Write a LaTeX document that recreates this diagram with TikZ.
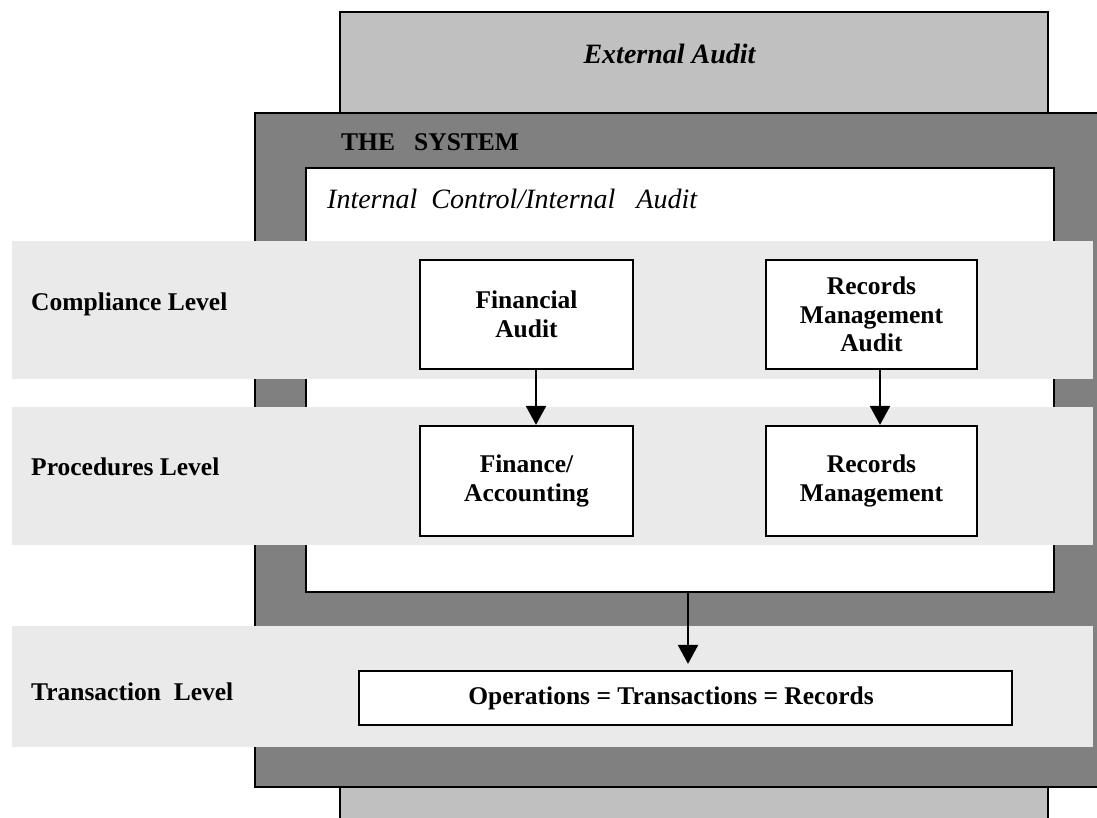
\documentclass[tikz,border=0pt]{standalone}
\usepackage{fontspec}
\setmainfont{Liberation Serif}
\usetikzlibrary{arrows.meta}
\definecolor{extgray}{HTML}{C0C0C0}
\definecolor{sysgray}{HTML}{808080}
\definecolor{bandgray}{HTML}{EAEAEA}
\begin{document}
\begin{tikzpicture}[x=1pt,y=-1pt,
  frame/.style={draw=black,line width=2.2pt,inner sep=0pt,outer sep=0pt,anchor=north west},
  stepbox/.style={draw=black,line width=2.2pt,fill=white,align=center,inner sep=0pt,
    font=\fontsize{25.5}{28.5}\selectfont\bfseries},
  lbl/.style={anchor=base west,inner sep=0pt,font=\fontsize{25.5}{28}\selectfont\bfseries},
  flow/.style={line width=2.2pt,-{Triangle[width=20pt,length=19pt]}}]
\useasboundingbox (0,0) rectangle (1097,818);
\clip (0,0) rectangle (1097,818);

% outer layers: external audit, the system, internal control
\node[frame,fill=extgray,minimum width=708pt,minimum height=840pt] (ext) at (340,12) {};
\node[frame,fill=sysgray,minimum width=870pt,minimum height=674pt] (sys) at (255,113) {};
\node[frame,fill=white,minimum width=748pt,minimum height=424pt] (inner) at (306,168) {};

% level bands
\fill[bandgray] (12,241) rectangle (1093,379);
\fill[bandgray] (12,407) rectangle (1093,545);
\fill[bandgray] (12,626) rectangle (1093,747);

% captions of the layers
\node[anchor=base,inner sep=0pt,font=\fontsize{28}{31}\selectfont\bfseries\itshape] (extlbl) at (669.5,64) {External Audit};
\node[lbl] (syslbl) at (341,151) {THE\ \ \ SYSTEM};
\node[anchor=base west,inner sep=0pt,font=\fontsize{28}{31}\selectfont\itshape] (innerlbl) at (327,209) {Internal\ \ Control/Internal\ \ \ Audit};

% level labels
\node[lbl] (compl) at (31,310) {Compliance Level};
\node[lbl] (proc) at (31,475) {Procedures Level};
\node[lbl] (trans) at (31,700) {Transaction\ \ Level};

% process boxes
\node[stepbox,minimum width=213pt,minimum height=109pt] (fa) at (526.5,314.5) {Financial\\Audit};
\node[stepbox,minimum width=211pt,minimum height=109pt] (rma) at (871.5,314.5) {Records\\Management\\Audit};
\node[stepbox,minimum width=213pt,minimum height=110pt] (fin) at (526.5,481) {Finance/\\Accounting};
\node[stepbox,minimum width=211pt,minimum height=110pt] (rm) at (871.5,481) {Records\\Management};
\node[stepbox,minimum width=653pt,minimum height=54pt] (ops) at (685.5,698) {};
\node[anchor=base,inner sep=0pt,font=\fontsize{25.5}{28}\selectfont\bfseries] (opstext) at (671,704) {Operations = Transactions = Records};

% connectors
\draw[flow] ([xshift=9.5pt]fa.south) -- ([xshift=9.5pt]fin.north);
\draw[flow] ([xshift=8.5pt]rma.south) -- ([xshift=8.5pt]rm.north);
\draw[flow,shorten >=6pt] ([xshift=8pt]inner.south) -- ([xshift=8pt]inner.south |- ops.north);
\end{tikzpicture}
\end{document}
